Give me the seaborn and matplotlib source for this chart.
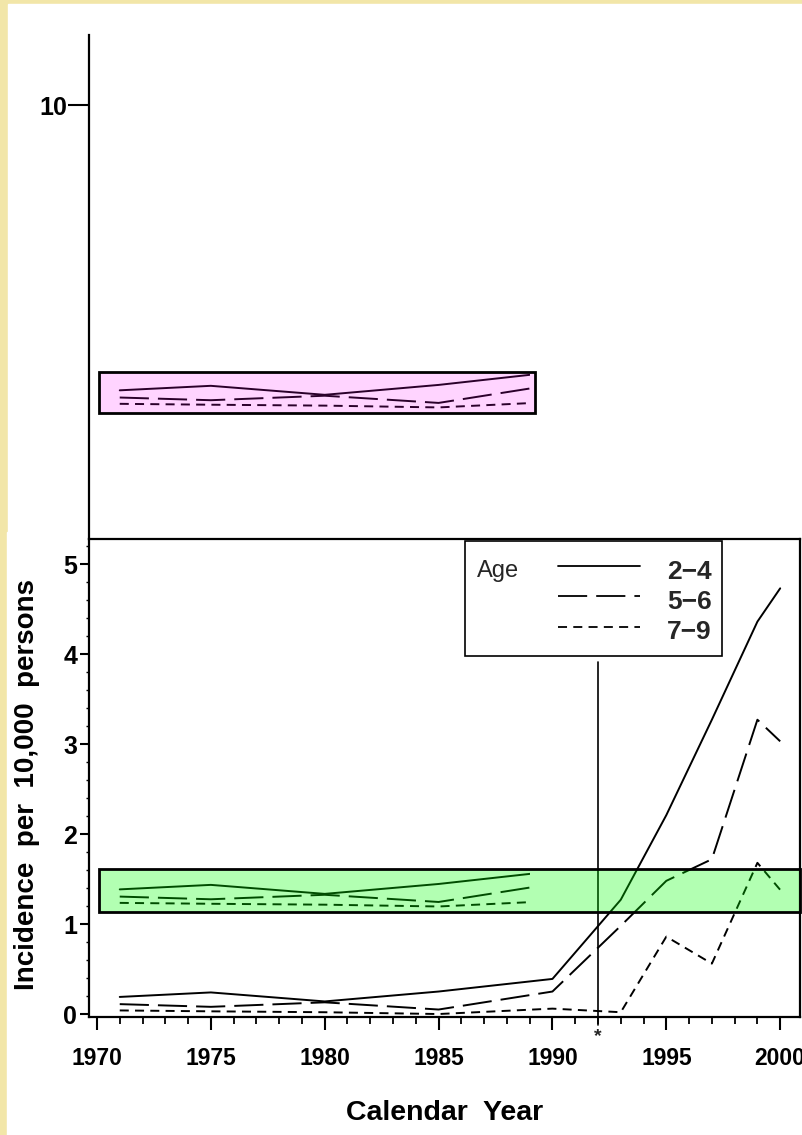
import numpy as np
import pandas as pd
import matplotlib.pyplot as plt
import seaborn as sns
from matplotlib.patches import Rectangle
from matplotlib.ticker import MultipleLocator
from matplotlib.lines import Line2D

# data
years = [1971, 1975, 1980, 1985, 1990, 1993, 1995, 1997, 1999, 2000]
age_groups = ['2−4', '5−6', '7−9']
rate_2_4 = [0.19, 0.24, 0.14, 0.25, 0.39, 1.27, 2.21, 3.27, 4.36, 4.73]
rate_5_6 = [0.11, 0.08, 0.13, 0.05, 0.25, 0.98, 1.48, 1.72, 3.27, 3.03]
rate_7_9 = [0.04, 0.03, 0.02, 0.00, 0.06, 0.02, 0.86, 0.56, 1.68, 1.38]
x_ticks = [1970, 1975, 1980, 1985, 1990, 1995, 2000]
y_ticks = [0, 1, 2, 3, 4, 5]
marker_year = 1992

df = pd.DataFrame({
    'year': years * 3,
    'rate': rate_2_4 + rate_5_6 + rate_7_9,
    'age': [a for a in age_groups for _ in years],
})

dash_map = {'2−4': '', '5−6': (21, 6.5), '7−9': (6.5, 4.5)}

sns.set_style('white')
plt.rcParams['lines.scale_dashes'] = False
plt.rcParams['font.family'] = ['Liberation Sans', 'DejaVu Sans']

cream = '#f2e6a8'
fig = plt.figure(figsize=(8.02, 11.35), dpi=100, facecolor=cream)
W, H = 802, 1135

def fx(px):
    return px / W

def fy(py):
    return 1 - py / H

# white page on the cream border
fig.patches.append(Rectangle((fx(8), fy(532)), 1, fy(4) - fy(532),
                             transform=fig.transFigure, color='white', zorder=-5))
fig.patches.append(Rectangle((fx(7), 0), 1, fy(532),
                             transform=fig.transFigure, color='white', zorder=-5))

x_lim = (1969.65, 2000.87)

# upper panel (original scale up to 10)
ax_top = fig.add_axes([fx(89), fy(539), fx(800) - fx(89), fy(35) - fy(539)])
ax_top.patch.set_alpha(0)
ax_top.set_xlim(*x_lim)
ax_top.set_ylim(5.178, 10.778)
for s in ['top', 'right', 'bottom']:
    ax_top.spines[s].set_visible(False)
ax_top.spines['left'].set_linewidth(1.6)
ax_top.spines['left'].set_color('black')
ax_top.set_xticks([])
ax_top.set_yticks([10])
ax_top.set_yticklabels(['10'], fontsize=18, fontweight='bold')
ax_top.tick_params(axis='y', direction='out', length=15, width=1.5, pad=1,
                   left=True, colors='black')

# main panel
ax = fig.add_axes([fx(89), fy(1017), fx(800) - fx(89), fy(539) - fy(1017)])
ax.set_facecolor('white')

sns.lineplot(data=df, x='year', y='rate', style='age', dashes=dash_map,
             color='black', linewidth=1.4, legend=False, ax=ax)

ax.set_xlim(*x_lim)
ax.set_ylim(-0.033, 5.278)
ax.set_xticks(x_ticks)
ax.set_xticklabels([str(t) for t in x_ticks], fontsize=16.5, fontweight='bold')
ax.set_yticks(y_ticks)
ax.set_yticklabels([str(t) for t in y_ticks], fontsize=18, fontweight='bold')
ax.xaxis.set_minor_locator(MultipleLocator(1))
ax.yaxis.set_minor_locator(MultipleLocator(0.2))
ax.tick_params(axis='x', which='major', direction='out', length=9.5, width=1.5,
               pad=12, bottom=True, colors='black')
ax.tick_params(axis='x', which='minor', direction='out', length=5, width=1.3,
               bottom=True, colors='black')
ax.tick_params(axis='y', which='major', direction='out', length=6.5, width=1.5,
               pad=2, left=True, colors='black')
ax.tick_params(axis='y', which='minor', direction='out', length=2.5, width=1.0,
               left=True, colors='black')
for s in ax.spines.values():
    s.set_linewidth(1.6)
    s.set_color('black')
ax.set_xlabel('')
ax.set_ylabel('')

# vertical marker line at 1992 with asterisk
ax.plot([marker_year, marker_year], [-0.12, 3.91], color='black', lw=1.2,
        clip_on=False, zorder=3)
ax.text(marker_year, -0.25, '*', ha='center', va='center', fontsize=14,
        fontweight='bold', clip_on=False)

# highlighted copies of the 1971-1989 segment
early = df[df['year'] <= 1990].copy()


def draw_copy(target, offset, x0, x1, y0, y1, fill):
    n = len(target.lines)
    shifted = early.assign(rate=early['rate'] + offset)
    sns.lineplot(data=shifted, x='year', y='rate', style='age', dashes=dash_map,
                 color='black', linewidth=1.4, legend=False, ax=target)
    clip = Rectangle((x0, y0 - 1), 1989 - x0, (y1 - y0) + 2,
                     transform=target.transData)
    for ln in target.lines[n:]:
        ln.set_clip_path(clip)
    target.add_patch(Rectangle((x0, y0), x1 - x0, y1 - y0, facecolor=fill,
                               edgecolor='black', linewidth=2.0, zorder=5,
                               clip_on=False))
    target.set_xlabel('')
    target.set_ylabel('')


draw_copy(ax_top, 6.64, 1970.1, 1989.24, 6.574, 7.037, (1, 0, 1, 0.17))
ax_top.set_xlim(*x_lim)
ax_top.set_ylim(5.178, 10.778)
draw_copy(ax, 1.195, 1970.1, 2000.87, 1.13, 1.608, (0, 1, 0, 0.3))
ax.set_xlim(*x_lim)
ax.set_ylim(-0.033, 5.278)

# legend box drawn by hand
ax.add_patch(Rectangle((0.529, 0.755), 0.361, 0.241, transform=ax.transAxes,
                       facecolor='white', edgecolor='black', linewidth=1.2,
                       zorder=6))
ax.text(0.546, 0.934, 'Age', transform=ax.transAxes, fontsize=17,
        ha='left', va='center', zorder=7)
leg_line_y = [0.9435, 0.881, 0.816]
leg_text_y = [0.9316, 0.8688, 0.8054]
for grp, ly, ty in zip(age_groups, leg_line_y, leg_text_y):
    d = dash_map[grp]
    line = Line2D([0.6596, 0.775], [ly, ly], transform=ax.transAxes,
                  color='black', linewidth=1.3, zorder=7)
    if d:
        line.set_dashes(d)
    ax.add_line(line)
    ax.text(0.876, ty, grp, transform=ax.transAxes, fontsize=19,
            fontweight='bold', ha='right', va='center', zorder=7)

# axis titles
fig.text(fx(27), fy(785), 'Incidence  per  10,000  persons', rotation=90,
         ha='center', va='center', fontsize=20, fontweight='bold', color='black')
fig.text(fx(445), fy(1113), 'Calendar  Year', ha='center', va='center',
         fontsize=20.5, fontweight='bold', color='black')

fig.savefig('out.png', dpi=100, facecolor=cream)
